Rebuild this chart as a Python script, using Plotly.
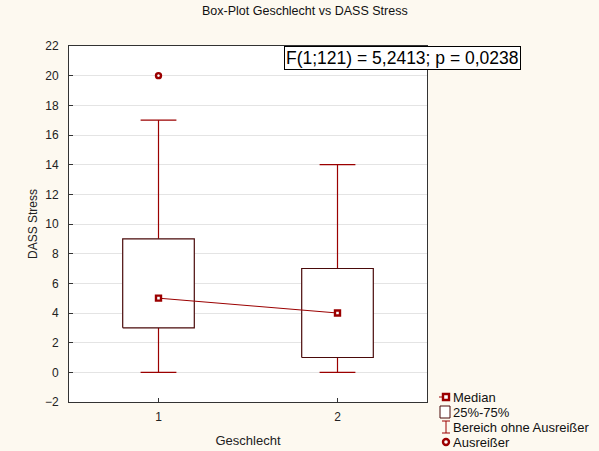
import plotly.graph_objects as go

# Summary statistics per group (Geschlecht 1 / 2)
groups = [1, 2]
medians = [5, 4]
q1 = [3, 1]
q3 = [9, 7]
whisker_low = [0, 0]
whisker_high = [17, 14]
outlier_x = [1]
outlier_y = [20]

y_ticks = list(range(-2, 23, 2))

RED = "#9b0000"
BOX_EDGE = "#4a0a0a"
BG = "#fdf9f0"
FONT = "Liberation Sans, Arial, sans-serif"

BOX_HALF = 0.2
CAP_HALF = 0.1

fig = go.Figure()

# Whiskers (range without outliers)
for g, lo, hi, a, b in zip(groups, whisker_low, whisker_high, q1, q3):
    fig.add_trace(go.Scatter(
        x=[g, g, None, g, g, None, g - CAP_HALF, g + CAP_HALF, None, g - CAP_HALF, g + CAP_HALF],
        y=[b, hi, None, lo, a, None, hi, hi, None, lo, lo],
        mode="lines", line=dict(color=RED, width=1.2),
        hoverinfo="skip", showlegend=False))

# Boxes (25%-75%)
for g, a, b in zip(groups, q1, q3):
    fig.add_trace(go.Scatter(
        x=[g - BOX_HALF, g + BOX_HALF, g + BOX_HALF, g - BOX_HALF, g - BOX_HALF],
        y=[a, a, b, b, a],
        mode="lines", fill="toself", fillcolor="white",
        line=dict(color=BOX_EDGE, width=1.2),
        hoverinfo="skip", showlegend=False))

# Median markers joined by a line
fig.add_trace(go.Scatter(
    x=groups, y=medians, mode="lines+markers",
    line=dict(color=RED, width=1),
    marker=dict(symbol="square", size=5, color="white",
                line=dict(color=RED, width=2.4)),
    showlegend=False))

# Outliers
fig.add_trace(go.Scatter(
    x=outlier_x, y=outlier_y, mode="markers",
    marker=dict(symbol="circle", size=5, color="white",
                line=dict(color=RED, width=2.4)),
    showlegend=False))

axis_common = dict(
    showline=True, linecolor="#333333", linewidth=1, mirror=True,
    ticks="inside", ticklen=4, tickcolor="#333333",
    tickfont=dict(family=FONT, size=12, color="#222222"),
    zeroline=False, automargin=False,
)

fig.update_xaxes(
    range=[0.5, 2.5], tickvals=groups, ticktext=[str(g) for g in groups],
    showgrid=False, ticklabelstandoff=4,
    title=dict(text="Geschlecht", font=dict(family=FONT, size=13, color="#222222"), standoff=12),
    **axis_common)
fig.update_yaxes(
    range=[-2, 22], tickvals=y_ticks,
    showgrid=True, gridcolor="#e4e4e4", gridwidth=1, ticklabelstandoff=7,
    title=dict(text="DASS Stress", font=dict(family=FONT, size=12, color="#222222"), standoff=4),
    **axis_common)

# Legend drawn by hand in paper coordinates
legend_rows = [("Median", 397), ("25%-75%", 412), ("Bereich ohne Ausreißer", 427), ("Ausreißer", 442)]
H = 451 - 46 - 49
W = 599 - 69 - 172

def px_to_paper(px, py):
    return (px - 69) / W, (451 - 49 - py) / H

annotations = []
for label, ypix in legend_rows:
    xp, yp = px_to_paper(451, ypix)
    annotations.append(dict(
        x=xp, y=yp, xref="paper", yref="paper", xanchor="left", yanchor="middle",
        text=label, showarrow=False, font=dict(family=FONT, size=13, color="#111111")))

shapes = []
# Median symbol
x0, y0 = px_to_paper(443, 394)
x1, y1 = px_to_paper(449, 400)
shapes.append(dict(type="rect", xref="paper", yref="paper", x0=x0, x1=x1, y0=y0, y1=y1,
                   line=dict(color=RED, width=2.4), fillcolor="white"))
shapes.append(dict(type="line", xref="paper", yref="paper",
                   x0=px_to_paper(439, 397)[0], x1=px_to_paper(443, 397)[0],
                   y0=px_to_paper(439, 397)[1], y1=px_to_paper(443, 397)[1],
                   line=dict(color=RED, width=1)))
# Box symbol
x0, y0 = px_to_paper(440, 406)
x1, y1 = px_to_paper(450, 418)
shapes.append(dict(type="rect", xref="paper", yref="paper", x0=x0, x1=x1, y0=y0, y1=y1,
                   line=dict(color=BOX_EDGE, width=1), fillcolor="white"))
# Whisker symbol
for (ax, ay, bx, by) in [(446, 421, 446, 433), (442, 421, 450, 421), (442, 433, 450, 433)]:
    pa = px_to_paper(ax, ay)
    pb = px_to_paper(bx, by)
    shapes.append(dict(type="line", xref="paper", yref="paper",
                       x0=pa[0], y0=pa[1], x1=pb[0], y1=pb[1],
                       line=dict(color=RED, width=1)))
# Outlier symbol
x0, y0 = px_to_paper(443, 439)
x1, y1 = px_to_paper(449, 445)
shapes.append(dict(type="circle", xref="paper", yref="paper", x0=x0, x1=x1, y0=y0, y1=y1,
                   line=dict(color=RED, width=2.4), fillcolor="white"))

# Title
tx, ty = px_to_paper(305, 11)
annotations.append(dict(
    x=tx, y=ty, xref="paper", yref="paper", xanchor="center", yanchor="middle",
    text="Box-Plot Geschlecht vs DASS Stress", showarrow=False,
    font=dict(family=FONT, size=12.5, color="#111111")))

# Test statistic box
fx, fy = px_to_paper(402, 58)
annotations.append(dict(
    x=fx, y=fy, xref="paper", yref="paper", xanchor="center", yanchor="middle",
    text="F(1;121) = 5,2413; p = 0,0238", showarrow=False,
    font=dict(family=FONT, size=17.5, color="#000000"),
    bgcolor="white", bordercolor="#000000", borderwidth=1, borderpad=1))

fig.update_layout(
    width=599, height=451,
    margin=dict(l=69, r=172, t=46, b=49, autoexpand=False),
    paper_bgcolor=BG, plot_bgcolor="white",
    showlegend=False,
    annotations=annotations,
    shapes=shapes,
)

fig.write_html("out.html")
